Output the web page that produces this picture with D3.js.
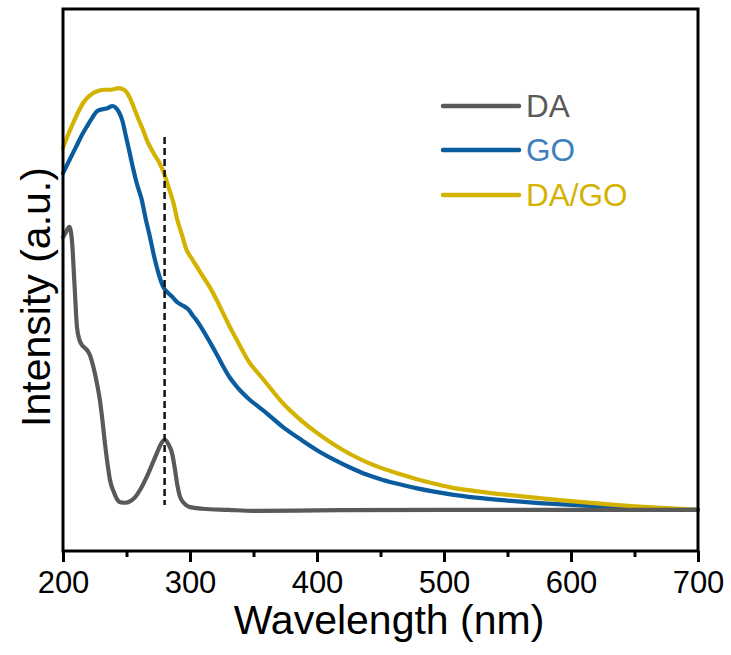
<!DOCTYPE html>
<html>
<head>
<meta charset="utf-8">
<script src="https://cdn.jsdelivr.net/npm/d3@7"></script>
<style>
html,body{margin:0;padding:0;background:#fff;}
svg{display:block;font-family:Arial,"Liberation Sans",sans-serif;}
</style>
</head>
<body>
<div id="chart"></div>
<script>
// ---- data (intensity in a.u.) ----
const daWave = [200,202,205,207,209,211,213,215,218,220,222,224,227,229,231,233,235,237,240,242,245,249,253,257,261,266,270,274,277,280,283,286,288,290,292,295,298,300,310,330,350,400,500,600,700];
const daInt  = [57.9,58.7,59.8,57.4,49.4,41.3,38.9,38.0,37.3,36.7,35.6,33.9,30.6,27.9,24.2,19.9,16.2,13.1,10.9,9.8,9.0,8.9,9.2,10.0,11.4,13.7,15.9,18.1,19.7,20.5,19.7,17.9,15.3,12.2,10.1,8.9,8.3,8.1,7.8,7.6,7.4,7.5,7.6,7.6,7.6];

const goWave = [200,205,211,215,219,223,227,231,235,239,241,244,247,249,252,255,258,262,265,268.5,272,276,279,282,286,290,295,299,302,305,310,316,321,326,331,337,342,347,354,360,373,387,400,413,426,439,452,465,478,491,505,525,550,575,600,625,650,675,700];
const goInt  = [69.7,72.1,74.9,76.8,78.4,79.9,81.2,81.5,81.7,82.1,81.9,81.0,79.2,77.1,74.0,70.8,67.9,64.8,61.4,57.9,54.1,50.6,48.7,47.8,46.9,45.9,45.2,44.5,43.5,42.6,40.8,38.4,36.3,34.1,32.1,30.3,29.0,27.9,26.6,25.5,22.9,20.6,18.6,16.9,15.4,14.1,13.1,12.3,11.6,11.0,10.45,9.85,9.3,8.85,8.5,8.2,7.95,7.75,7.6];

const dagoWave = [200,204,208,212,216,220,224,228,232,236,240,244,247,250,253,256,259,263,266,269,272,276,280,283,287,290,294,297,301,305,310,316,321,326,331,337,342,347,354,360,373,387,400,413,426,439,452,465,478,491,505,525,550,575,600,625,650,675,700];
const dagoInt  = [74.4,76.8,79.0,81.0,82.7,83.8,84.5,84.9,85.1,85.1,85.2,85.4,85.2,84.7,83.4,81.7,79.9,77.7,75.8,74.4,73.1,71.6,69.4,67.2,64.2,61.1,58.1,55.7,54.1,52.6,50.7,48.5,46.3,43.9,41.5,38.9,36.7,34.7,32.7,31.0,27.3,24.2,21.8,19.7,17.9,16.4,15.2,14.2,13.3,12.5,11.75,11.05,10.35,9.75,9.2,8.7,8.25,7.9,7.6];

const seriesNames  = ["DA","GO","DA/GO"];
const seriesColors = ["#595959","#0b5c9e","#d4b200"];
const labelColors  = ["#595959","#3d80be","#d4b200"];

const majorTicks = [200,300,400,500,600,700];
const minorTicks = [250,350,450,550,650];
const markerWave = 280;
const markerRange = [8.5, 76.4];

const xLabel = "Wavelength (nm)";
const yLabel = "Intensity (a.u.)";

// ---- layout ----
const W = 731, H = 655;
const m = {left:63, right:33, top:9, bottom:104};
const iw = W - m.left - m.right, ih = H - m.top - m.bottom;

const svg = d3.select("#chart").append("svg").attr("width",W).attr("height",H);
const g = svg.append("g").attr("transform",`translate(${m.left},${m.top})`);

const x = d3.scaleLinear().domain([200,700]).range([0,iw]);
const y = d3.scaleLinear().domain([0,100]).range([ih,0]);

const seriesData = [
  daWave.map((w,i)=>[w,daInt[i]]),
  goWave.map((w,i)=>[w,goInt[i]]),
  dagoWave.map((w,i)=>[w,dagoInt[i]])
];

const line = d3.line().x(d=>x(d[0])).y(d=>y(d[1])).curve(d3.curveMonotoneX);

[1,2,0].forEach(i=>{
  g.append("path").datum(seriesData[i])
   .attr("fill","none").attr("stroke",seriesColors[i])
   .attr("stroke-width",4.2).attr("stroke-linejoin","round").attr("stroke-linecap","round")
   .attr("d",line);
});

// dashed marker
g.append("line")
 .attr("x1",x(markerWave)).attr("x2",x(markerWave))
 .attr("y1",y(markerRange[1])).attr("y2",y(markerRange[0]))
 .attr("stroke","#111").attr("stroke-width",2.5).attr("stroke-dasharray","7,4");

// frame
g.append("rect").attr("x",0).attr("y",0).attr("width",iw).attr("height",ih)
 .attr("fill","none").attr("stroke","#000").attr("stroke-width",3);

// x axis
const xAxis = d3.axisBottom(x).tickValues(majorTicks).tickSize(11).tickPadding(9).tickFormat(d3.format("d"));
const ax = g.append("g").attr("transform",`translate(0,${ih})`).call(xAxis);
ax.select(".domain").remove();
ax.selectAll(".tick line").attr("stroke","#000").attr("stroke-width",3);
ax.selectAll(".tick text").attr("font-size",31).attr("fill","#000").attr("font-family","Arial,'Liberation Sans',sans-serif");
const axm = g.append("g").attr("transform",`translate(0,${ih})`)
  .call(d3.axisBottom(x).tickValues(minorTicks).tickSize(6).tickFormat(""));
axm.select(".domain").remove();
axm.selectAll(".tick line").attr("stroke","#000").attr("stroke-width",3);

// axis titles
svg.append("text").attr("x", 389).attr("y", 634)
  .attr("text-anchor","middle").attr("font-size",41).attr("fill","#000").text(xLabel);
svg.append("text").attr("transform",`translate(50,297) rotate(-90)`)
  .attr("text-anchor","middle").attr("font-size",41).attr("fill","#000").text(yLabel);

// legend
const legY = [106,150,195];
const lg = svg.append("g");
seriesNames.forEach((n,i)=>{
  lg.append("line").attr("x1",443).attr("x2",519).attr("y1",legY[i]).attr("y2",legY[i])
    .attr("stroke",seriesColors[i]).attr("stroke-width",4.5).attr("stroke-linecap","round");
  lg.append("text").attr("x",526).attr("y",legY[i]).attr("dy","0.36em")
    .attr("font-size",31.5).attr("fill",labelColors[i]).text(n);
});
</script>
</body>
</html>
